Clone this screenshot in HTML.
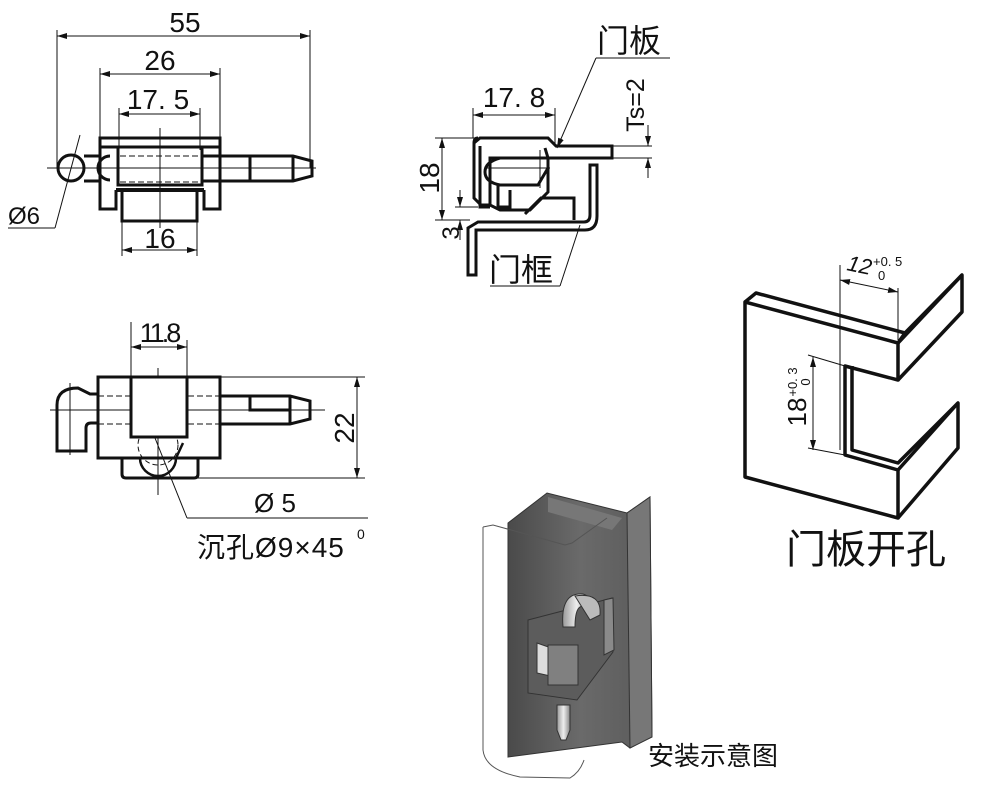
<!DOCTYPE html>
<html><head><meta charset="utf-8"><style>
html,body{margin:0;padding:0;background:#fff;width:984px;height:793px;overflow:hidden}
text{font-family:"Liberation Sans","Noto Sans CJK SC",sans-serif;fill:#111}
</style></head><body>
<svg width="984" height="793" viewBox="0 0 984 793" xmlns="http://www.w3.org/2000/svg">
<defs>
<marker id="a" markerWidth="10" markerHeight="6" refX="10" refY="3" orient="auto-start-reverse" markerUnits="userSpaceOnUse"><path d="M0,0 L10,3 L0,6 Z" fill="#111"/></marker>
<linearGradient id="g1" x1="0" x2="1"><stop offset="0" stop-color="#4a4a4a"/><stop offset=".5" stop-color="#6a6a6a"/><stop offset="1" stop-color="#5a5a5a"/></linearGradient>
<linearGradient id="g2" x1="0" x2="1"><stop offset="0" stop-color="#999"/><stop offset=".5" stop-color="#eee"/><stop offset="1" stop-color="#888"/></linearGradient>
</defs>
<g stroke="#111" fill="none">
<g stroke-width="1">
<line x1="57" y1="30" x2="57" y2="168"/><line x1="310" y1="30" x2="310" y2="168"/>
<line x1="57" y1="36" x2="310" y2="36" marker-start="url(#a)" marker-end="url(#a)"/>
<line x1="100" y1="68" x2="100" y2="138"/><line x1="220" y1="68" x2="220" y2="138"/>
<line x1="100" y1="74" x2="220" y2="74" marker-start="url(#a)" marker-end="url(#a)"/>
<line x1="119" y1="108" x2="119" y2="150"/><line x1="200" y1="108" x2="200" y2="150"/>
<line x1="119" y1="114" x2="200" y2="114" marker-start="url(#a)" marker-end="url(#a)"/>
<line x1="122" y1="222" x2="122" y2="256"/><line x1="197" y1="222" x2="197" y2="256"/>
<line x1="122" y1="250" x2="197" y2="250" marker-start="url(#a)" marker-end="url(#a)"/>
<line x1="47" y1="168" x2="316" y2="168"/>
<line x1="160" y1="128" x2="160" y2="228"/>
<line x1="80" y1="135" x2="55" y2="228"/><line x1="55" y1="228" x2="8" y2="228"/>
<line x1="120" y1="156" x2="200" y2="156" stroke-dasharray="6,3"/>
<line x1="120" y1="182" x2="200" y2="182" stroke-dasharray="6,3"/>
</g>
<g stroke-width="3">
<rect x="100" y="138" width="120" height="9"/>
<path d="M100,147 V209 H116 V190"/><path d="M220,147 V209 H204 V190"/>
<rect x="118" y="147" width="84" height="38"/>
<rect x="122" y="190" width="75" height="31"/>
<path d="M116,190 H204" stroke-width="4"/>
<circle cx="71" cy="168" r="13"/>
<path d="M110,156 A12,12 0 0 0 110,180"/>
<path d="M84,156 H100 M84,181 H100"/>
<path d="M202,156 H293 L312,161 V176 L293,181 H202"/>
<line x1="250" y1="156" x2="250" y2="181"/><line x1="293" y1="156" x2="293" y2="181"/>
</g>
<g stroke-width="1">
<line x1="131" y1="322" x2="131" y2="377"/><line x1="187" y1="340" x2="187" y2="377"/>
<line x1="131" y1="347" x2="187" y2="347" marker-start="url(#a)" marker-end="url(#a)"/>
<line x1="220" y1="377" x2="365" y2="377"/><line x1="198" y1="478" x2="365" y2="478"/>
<line x1="357" y1="377" x2="357" y2="478" marker-start="url(#a)" marker-end="url(#a)"/>
<line x1="50" y1="410" x2="325" y2="410"/>
<line x1="158" y1="368" x2="158" y2="495"/><line x1="70" y1="383" x2="70" y2="455"/>
<line x1="98" y1="396" x2="250" y2="396" stroke-dasharray="6,3"/>
<line x1="98" y1="424" x2="250" y2="424" stroke-dasharray="6,3"/>
<line x1="147" y1="418" x2="187" y2="518"/><line x1="187" y1="518" x2="368" y2="518"/>
<circle cx="158" cy="445" r="20" stroke-dasharray="5,3"/>
</g>
<g stroke-width="3">
<rect x="98" y="377" width="122" height="81"/>
<rect x="131" y="377" width="56" height="60" fill="#fff"/>
<path d="M122,458 V474 Q122,478 126,478 H194 Q198,478 198,474 V458"/>
<path d="M98,394 H90 L78,388 Q57,388 57,405 V451 H86 V428 Q86,423 91,423 H98"/>
<path d="M220,396 H290 L310,401 V419 L290,424 H220"/>
<path d="M250,396 V410 H290"/>
<path d="M290,396 V424"/>
<path d="M140,458 A18,18 0 0 0 176,458 L183,443" stroke-width="2.5"/>
</g>
<g stroke-width="1">
<line x1="473" y1="108" x2="473" y2="138"/><line x1="555" y1="108" x2="555" y2="145"/>
<line x1="473" y1="115" x2="555" y2="115" marker-start="url(#a)" marker-end="url(#a)"/>
<line x1="435" y1="138" x2="480" y2="138"/><line x1="435" y1="220" x2="470" y2="220"/>
<line x1="442" y1="138" x2="442" y2="220" marker-start="url(#a)" marker-end="url(#a)"/>
<line x1="455" y1="207" x2="478" y2="207"/>
<line x1="460" y1="190" x2="460" y2="207" marker-end="url(#a)"/>
<line x1="460" y1="240" x2="460" y2="220" marker-end="url(#a)"/>
<line x1="596" y1="58" x2="670" y2="58"/><line x1="596" y1="58" x2="557" y2="148" marker-end="url(#a)"/>
<line x1="612" y1="146" x2="652" y2="146"/><line x1="612" y1="158" x2="652" y2="158"/>
<line x1="648" y1="125" x2="648" y2="146" marker-end="url(#a)"/>
<line x1="648" y1="178" x2="648" y2="158" marker-end="url(#a)"/>
<line x1="580" y1="225" x2="560" y2="286"/><line x1="560" y1="286" x2="490" y2="286"/>
<line x1="485" y1="168" x2="550" y2="168"/>
<line x1="540" y1="150" x2="540" y2="188"/>
</g>
<g stroke-width="3">
<path d="M478,138 Q474,138 474,143 V198 L481,205 H490 L500,210 H530 L548,192 V158 L545,148"/>
<path d="M474,143 L480,138 H548 L556,146 H612 V158 H490 V205"/>
<path d="M480,146 V207 H490"/>
<path d="M500,158 Q485,162 485,172 Q485,182 500,185 H538 L548,168"/>
<path d="M498,185 V207 H510 V190 H510"/>
<path d="M525,214 L541,198 H574 V220"/>
<path d="M468,275 V228 L478,222 H584 Q590,222 590,215 V165 H597 V216 Q597,230 585,230 H476 V275 Z"/>
</g>
<g stroke-width="1">
<line x1="840" y1="265" x2="840" y2="450"/><line x1="898" y1="288" x2="898" y2="340"/>
<line x1="840" y1="280" x2="898" y2="292" marker-start="url(#a)" marker-end="url(#a)"/>
<line x1="808" y1="355" x2="845" y2="366"/><line x1="808" y1="448" x2="845" y2="455"/>
<line x1="813" y1="357" x2="813" y2="450" marker-start="url(#a)" marker-end="url(#a)"/>
</g>
<g stroke-width="3.5" stroke-linejoin="round">
<path d="M745,302 L898,343 L898,380 L845,366 V455 L898,470 V518 L745,477 Z"/>
<path d="M745,302 L756,293 L905,333 L898,343"/>
<path d="M905,333 L962,275 V312 L898,380"/>
<path d="M898,343 L962,275"/>
<path d="M852,366 V450 L898,463 L958,403 V448 L898,518"/>
<path d="M898,470 L958,403"/>
</g>
<g stroke="#333" stroke-width="1">
<path d="M508,523 L547,493 L627,513 L650,497 L652,737 L630,748 L622,742 L508,757 Z" fill="url(#g1)"/>
<path d="M627,513 L650,497 L652,737 L630,748 Z" fill="#777"/>
<path d="M548,497 L622,518 L612,530 L548,512 Z" fill="#777" stroke="none"/>
<path d="M528,620 L612,598 L613,652 L577,700 L528,693 Z" fill="#5c5c5c"/>
<path d="M604,600 L613,598 L614,650 L604,655 Z" fill="#8a8a8a"/>
<path d="M537,643 L577,657 L577,682 L537,673 Z" fill="#ddd"/>
<rect x="548" y="645" width="30" height="40" fill="#808080"/>
<path d="M563,627 Q560,592 583,594 Q595,598 588,608 Q575,600 575,627 Z" fill="url(#g2)"/>
<path d="M575,596 Q602,592 600,615 L590,620 Z" fill="#bbb"/>
<path d="M557,705 H570 V730 L566,740 H561 L557,730 Z" fill="url(#g2)"/>
</g>
<path d="M483,527 L493,525 L565,545 L572,543 L607,518 M483,527 V750 Q485,770 520,777 L570,778 Q580,772 584,760" stroke="#555" stroke-width="1"/>
</g>
<text x="185" y="32" font-size="28" text-anchor="middle">55</text>
<text x="160" y="70" font-size="28" text-anchor="middle">26</text>
<text x="158" y="109" font-size="28" text-anchor="middle">17. 5</text>
<text x="160" y="248" font-size="28" text-anchor="middle">16</text>
<text x="8" y="224" font-size="24">Ø6</text>
<text x="159" y="342" font-size="27" text-anchor="middle" letter-spacing="-3">11.8</text>
<text transform="translate(354,428) rotate(-90)" font-size="28" text-anchor="middle">22</text>
<text x="254" y="512" font-size="26">Ø 5</text>
<text x="197" y="557" font-size="28" letter-spacing="1">沉孔Ø9×45</text>
<text x="357" y="539" font-size="14">0</text>
<text x="597" y="52" font-size="32">门板</text>
<text x="514" y="107" font-size="28" text-anchor="middle">17. 8</text>
<text transform="translate(644,105) rotate(-90)" font-size="25" text-anchor="middle">Ts=2</text>
<text transform="translate(439,178) rotate(-90)" font-size="28" text-anchor="middle">18</text>
<text transform="translate(459,233) rotate(-90)" font-size="24" text-anchor="middle">3</text>
<text x="489" y="281" font-size="32">门框</text>
<text x="846" y="270" font-size="22" font-style="italic" transform="rotate(12 846 270)">12</text>
<text x="873" y="266" font-size="13">+0. 5</text>
<text x="878" y="280" font-size="13">0</text>
<text transform="translate(806,412) rotate(-90)" font-size="26" text-anchor="middle">18</text>
<text transform="translate(797,382) rotate(-90)" font-size="13" text-anchor="middle">+0. 3</text>
<text transform="translate(810,382) rotate(-90)" font-size="13" text-anchor="middle">0</text>
<text x="786" y="563" font-size="40">门板开孔</text>
<text x="648" y="765" font-size="26">安装示意图</text>
</svg>
</body></html>
